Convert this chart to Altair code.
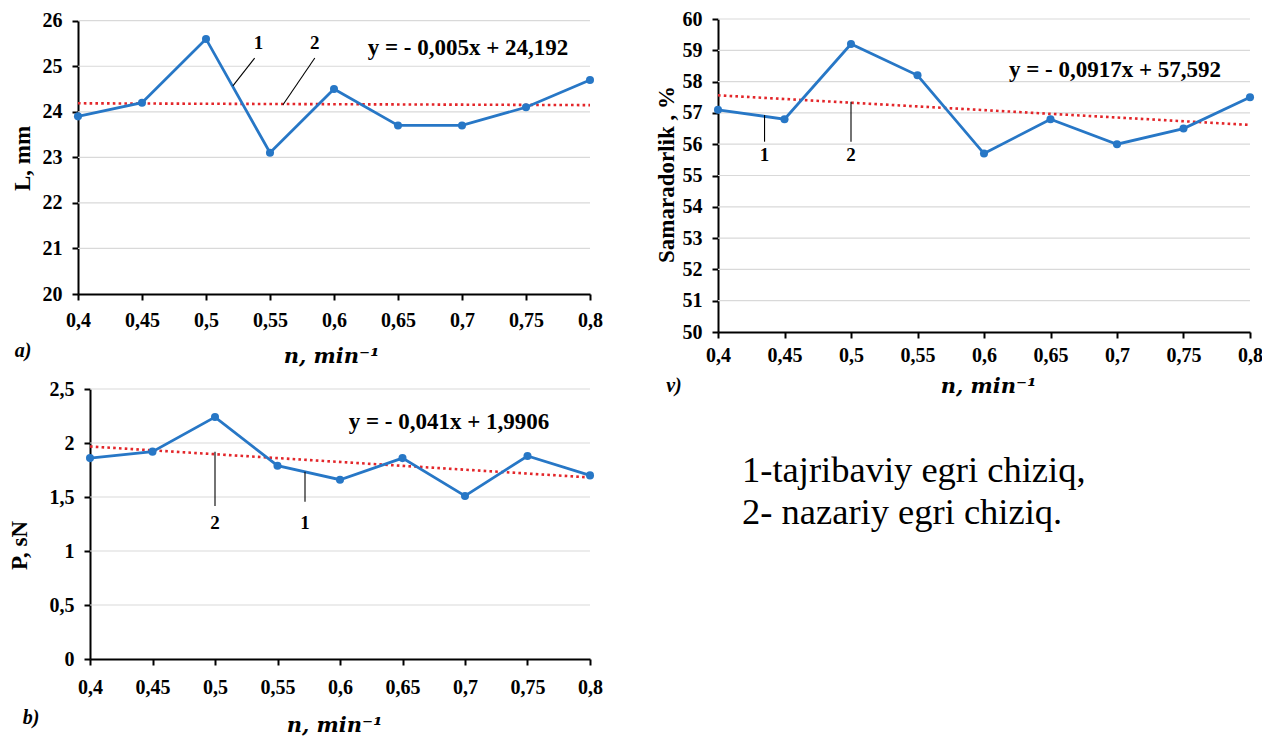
import altair as alt
import pandas as pd

# ---------------- data ----------------
n_vals = [0.4, 0.45, 0.5, 0.55, 0.6, 0.65, 0.7, 0.75, 0.8]
L_mm = [23.9, 24.2, 25.6, 23.1, 24.5, 23.7, 23.7, 24.1, 24.7]
samaradorlik = [57.1, 56.8, 59.2, 58.2, 55.7, 56.8, 56.0, 56.5, 57.5]
P_sN = [1.86, 1.92, 2.24, 1.79, 1.66, 1.86, 1.51, 1.88, 1.70]

L_ticks = [20, 21, 22, 23, 24, 25, 26]
S_ticks = [50, 51, 52, 53, 54, 55, 56, 57, 58, 59, 60]
P_ticks = [0, 0.5, 1, 1.5, 2, 2.5]

eq_a = "y = - 0,005x + 24,192"
eq_v = "y = - 0,0917x + 57,592"
eq_b = "y = - 0,041x + 1,9906"

x_title = "n, min⁻¹"
y_title_a = "L, mm"
y_title_v = "Samaradorlik ,  %"
y_title_b = "P, sN"
panel_labels = ["a)", "v)", "b)"]
legend_lines = ["1-tajribaviy egri chiziq,", "2- nazariy egri chiziq."]

# curve-number annotations (data coordinates of each panel)
ann_a_lab = ["1", "2"]
ann_a_x = [0.541, 0.585]
ann_a_y = [25.5, 25.5]
ann_a_lx = [0.538, 0.585]
ann_a_ly = [25.18, 25.18]
ann_a_lx2 = [0.521, 0.560]
ann_a_ly2 = [24.57, 24.15]

ann_v_lab = ["1", "2"]
ann_v_x = [0.435, 0.5]
ann_v_y = [55.65, 55.65]
ann_v_lx = [0.435, 0.5]
ann_v_ly = [56.93, 57.36]
ann_v_lx2 = [0.435, 0.5]
ann_v_ly2 = [56.08, 56.08]

ann_b_lab = ["2", "1"]
ann_b_x = [0.5, 0.572]
ann_b_y = [1.256, 1.256]
ann_b_lx = [0.5, 0.572]
ann_b_ly = [1.92, 1.734]
ann_b_lx2 = [0.5, 0.572]
ann_b_ly2 = [1.417, 1.456]

# ---------------- styling ----------------
W, H = 1262, 736
FONT = "Liberation Serif"
TFONT = "DejaVu Serif"
BLUE = "#2777C6"
RED = "#E3262A"
GRID = "#D9D9D9"
LABEL_EXPR = "replace(format(datum.value, '.2~f'), '.', ',')"


def panel(yvals, yticks, ydomain, xr, yr, ytitle, ytitle_xy, xtitle_xy,
          xlabpad, eq, eq_xy, ann):
    df = pd.DataFrame({"n": n_vals, "v": yvals})
    xs = alt.Scale(domain=[0.4, 0.8], range=xr, nice=False, zero=False)
    ys = alt.Scale(domain=ydomain, range=yr, nice=False, zero=False)

    common = dict(domainColor="black", domainWidth=2, tickColor="black",
                  tickWidth=2, tickSize=6, grid=False, labelFont=FONT,
                  labelFontWeight="bold", labelFontSize=20, labelColor="black",
                  labelOverlap=False, labelFlush=False, labelExpr=LABEL_EXPR,
                  titleFontWeight="bold", titleColor="black")
    xaxis = alt.Axis(orient="bottom", offset=yr[0] - H, values=n_vals,
                     labelPadding=xlabpad, title=x_title, titleFont=TFONT,
                     titleFontSize=21, titleFontStyle="italic",
                     titleX=xtitle_xy[0], titleY=xtitle_xy[1] - yr[0],
                     titleAlign="center", titleBaseline="alphabetic", **common)
    yaxis = alt.Axis(orient="left", offset=-xr[0], values=yticks,
                     labelPadding=10, title=ytitle, titleFont=FONT,
                     titleFontSize=23, titleAngle=270,
                     titleX=ytitle_xy[0] - xr[0], titleY=ytitle_xy[1],
                     titleAlign="center", titleBaseline="middle", **common)

    grid_df = pd.DataFrame({"g": yticks[1:], "x0": 0.4, "x1": 0.8})
    grid = alt.Chart(grid_df).mark_rule(color=GRID, strokeWidth=1.2).encode(
        x=alt.X("x0:Q", scale=xs, axis=xaxis),
        x2="x1:Q",
        y=alt.Y("g:Q", scale=ys, axis=yaxis),
    )
    trend = alt.Chart(df).transform_regression("n", "v").mark_line(
        color=RED, strokeWidth=2.6, strokeDash=[2.6, 3.2]
    ).encode(x=alt.X("n:Q", scale=xs, axis=None),
             y=alt.Y("v:Q", scale=ys, axis=None))
    line = alt.Chart(df).mark_line(color=BLUE, strokeWidth=2.8).encode(
        x=alt.X("n:Q", scale=xs, axis=None),
        y=alt.Y("v:Q", scale=ys, axis=None))
    pts = alt.Chart(df).mark_point(filled=True, color=BLUE, size=65,
                                   opacity=1).encode(
        x=alt.X("n:Q", scale=xs, axis=None),
        y=alt.Y("v:Q", scale=ys, axis=None))

    lab, ax, ay, lx, ly, lx2, ly2 = ann
    adf = pd.DataFrame({"lab": lab, "x": ax, "y": ay})
    ldf = pd.DataFrame({"x": lx, "y": ly, "x2": lx2, "y2": ly2})
    leaders = alt.Chart(ldf).mark_rule(color="black", strokeWidth=1.1).encode(
        x=alt.X("x:Q", scale=xs, axis=None), x2="x2:Q",
        y=alt.Y("y:Q", scale=ys, axis=None), y2="y2:Q")
    nums = alt.Chart(adf).mark_text(font=FONT, fontWeight="bold", fontSize=19,
                                    color="black", baseline="middle").encode(
        x=alt.X("x:Q", scale=xs, axis=None),
        y=alt.Y("y:Q", scale=ys, axis=None),
        text="lab:N")
    eqc = alt.Chart(pd.DataFrame({"t": [eq]})).mark_text(
        font=FONT, fontWeight="bold", fontSize=23, color="black",
        baseline="middle", align="center").encode(
        x=alt.value(eq_xy[0]), y=alt.value(eq_xy[1]), text="t:N")
    return [grid, trend, line, pts, leaders, nums, eqc]


pa = panel(L_mm, L_ticks, [20, 26], [78, 590], [294, 20.7], y_title_a,
           (22, 158), (331, 362), 10, eq_a, (468, 48),
           (ann_a_lab, ann_a_x, ann_a_y, ann_a_lx, ann_a_ly, ann_a_lx2, ann_a_ly2))
pv = panel(samaradorlik, S_ticks, [50, 60], [718, 1250], [332, 19], y_title_v,
           (666, 174), (988, 392), 7, eq_v, (1115, 70),
           (ann_v_lab, ann_v_x, ann_v_y, ann_v_lx, ann_v_ly, ann_v_lx2, ann_v_ly2))
pb = panel(P_sN, P_ticks, [0, 2.5], [90, 590], [659, 389], y_title_b,
           (19, 545), (334, 731), 12, eq_b, (449, 422),
           (ann_b_lab, ann_b_x, ann_b_y, ann_b_lx, ann_b_ly, ann_b_lx2, ann_b_ly2))

lab_df = pd.DataFrame({"t": panel_labels})
plabels = [
    alt.Chart(lab_df.iloc[[i]]).mark_text(
        font=FONT, fontWeight="bold", fontStyle="italic", fontSize=20,
        color="black", baseline="middle", align="center").encode(
        x=alt.value(px), y=alt.value(py), text="t:N")
    for i, (px, py) in enumerate([(23, 351), (674, 386), (31, 718)])
]
legend = alt.Chart(pd.DataFrame({"t": ["\n".join(legend_lines)]})).mark_text(
    font=FONT, fontSize=36.5, color="black", align="left",
    baseline="alphabetic", lineBreak="\n", lineHeight=41.6).encode(
    x=alt.value(742), y=alt.value(482), text="t:N")

chart = alt.layer(*pa, *pv, *pb, *plabels, legend).resolve_scale(
    x="independent", y="independent"
).resolve_axis(
    x="independent", y="independent"
).properties(
    width=W, height=H, autosize=alt.AutoSizeParams(type="none"), padding=0,
    background="white"
).configure_view(stroke=None)

chart.save("out.html", embed_options={"renderer": "svg", "actions": False})
